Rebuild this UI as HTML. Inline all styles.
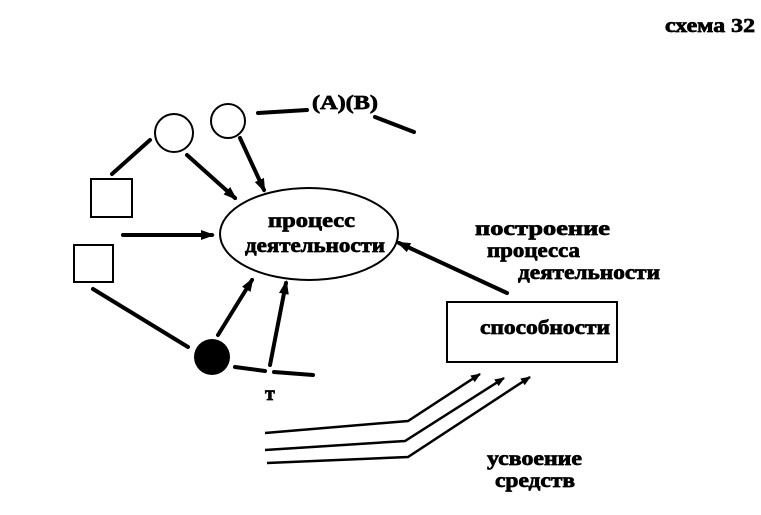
<!DOCTYPE html>
<html><head><meta charset="utf-8"><style>
html,body{margin:0;padding:0;background:#fff;}
svg{display:block;}
text{font-family:"Liberation Serif",serif;font-weight:bold;font-size:20px;fill:#000;stroke:#000;stroke-width:0.7px;}
</style></head><body>
<svg width="761" height="515" viewBox="0 0 761 515" xmlns="http://www.w3.org/2000/svg">
<defs>
<marker id="a" markerWidth="14" markerHeight="10" refX="11" refY="5" orient="auto" markerUnits="userSpaceOnUse">
<path d="M0,0 L14,5 L0,10 z" fill="#000"/></marker>
<marker id="s" markerWidth="10" markerHeight="8" refX="9" refY="4" orient="auto" markerUnits="userSpaceOnUse">
<path d="M0,0 L10,4 L0,8 z" fill="#000"/></marker>
</defs>
<text x="665" y="32" textLength="90" lengthAdjust="spacingAndGlyphs">схема 32</text>
<g fill="none" stroke="#000" stroke-width="2">
<circle cx="174" cy="133" r="19"/>
<circle cx="228" cy="121" r="17"/>
<rect x="91" y="179" width="41" height="38"/>
<rect x="74" y="245" width="39" height="37"/>
<ellipse cx="309" cy="234" rx="89" ry="46"/>
<rect x="447" y="302" width="170" height="60"/>
</g>
<circle cx="212" cy="357" r="18" fill="#000"/>
<g stroke="#000" stroke-width="4" fill="none" stroke-linecap="round">
<line x1="150" y1="140" x2="112" y2="174"/>
<line x1="187" y1="155" x2="235" y2="198" marker-end="url(#a)"/>
<line x1="240" y1="138" x2="264" y2="190" marker-end="url(#a)"/>
<line x1="258" y1="113" x2="307" y2="110"/>
<line x1="375" y1="117" x2="414" y2="132"/>
<line x1="123" y1="235" x2="212" y2="235" marker-end="url(#a)"/>
<line x1="93" y1="289" x2="188" y2="347"/>
<line x1="218" y1="335" x2="252" y2="280" marker-end="url(#a)"/>
<line x1="270" y1="365" x2="286" y2="283" marker-end="url(#a)"/>
<line x1="235" y1="367" x2="265" y2="371"/>
<line x1="274" y1="372" x2="313" y2="375"/>
<line x1="507" y1="293" x2="399" y2="243" marker-end="url(#a)"/>
</g>
<g stroke="#000" stroke-width="2.5" fill="none">
<polyline points="265,433 408,421 480,374" marker-end="url(#s)"/>
<polyline points="265,450 405,441 504,378" marker-end="url(#s)"/>
<polyline points="267,463 408,457 530,377" marker-end="url(#s)"/>
</g>
<text x="312" y="109" textLength="66" lengthAdjust="spacingAndGlyphs">(A)(B)</text>
<text x="268" y="227" textLength="87" lengthAdjust="spacingAndGlyphs">процесс</text>
<text x="245" y="252" textLength="140" lengthAdjust="spacingAndGlyphs">деятельности</text>
<text x="265" y="400">т</text>
<text x="475" y="235" textLength="135" lengthAdjust="spacingAndGlyphs">построение</text>
<text x="487" y="257" textLength="93" lengthAdjust="spacingAndGlyphs">процесса</text>
<text x="518" y="279" textLength="142" lengthAdjust="spacingAndGlyphs">деятельности</text>
<text x="480" y="334" textLength="130" lengthAdjust="spacingAndGlyphs">способности</text>
<text x="487" y="465" textLength="95" lengthAdjust="spacingAndGlyphs">усвоение</text>
<text x="495" y="487" textLength="80" lengthAdjust="spacingAndGlyphs">средств</text>
</svg>
</body></html>
